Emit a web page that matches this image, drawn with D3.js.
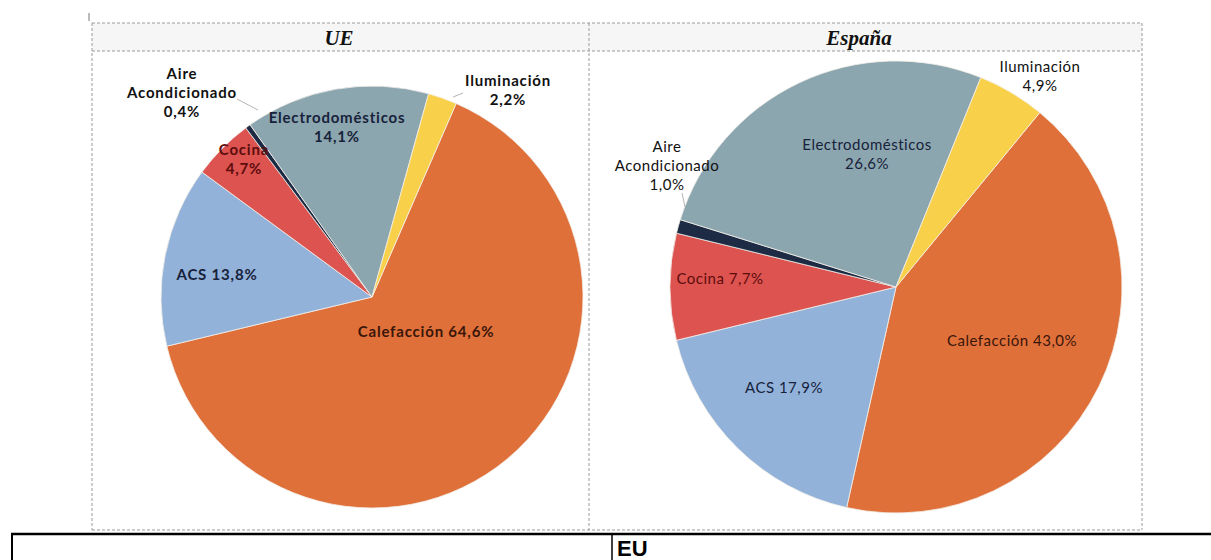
<!DOCTYPE html>
<html>
<head>
<meta charset="utf-8">
<script src="https://cdn.jsdelivr.net/npm/d3@7"></script>
<style>
  body { margin: 0; background: #fff; }
  svg { display: block; }
</style>
</head>
<body>
<div id="viz"></div>
<script>
// chart data
const categories = ["Calefacción", "ACS", "Cocina", "Aire Acondicionado", "Electrodomésticos", "Iluminación"];
const valuesUE = [64.6, 13.8, 4.7, 0.4, 14.1, 2.2];
const valuesES = [43.0, 17.9, 7.7, 1.0, 26.6, 4.9];
const panelTitles = ["UE", "España"];
const tableHeader = "EU";

const colors = ["#e0703a", "#92b2da", "#dc5350", "#1d2b45", "#8ca6b0", "#f8d04a"];
const labelColors = ["#3a160a", "#17223a", "#5e0d0d", "#111", "#17223a", "#111"];

const width = 1211, height = 560;

const fmt = d3.formatLocale({decimal: ",", thousands: ".", grouping: [3], currency: ["", "€"]}).format(".1f");

const svg = d3.select('#viz').append('svg')
    .attr('width', width)
    .attr('height', height);

// frame around both pies (dashed, like the pasted Excel picture)
const frame = {left: 92, right: 1142, top: 23, titleBottom: 51, bottom: 530, mid: 589};

svg.append('rect')
    .attr('x', frame.left).attr('y', frame.top)
    .attr('width', frame.right - frame.left).attr('height', frame.titleBottom - frame.top)
    .attr('fill', '#f6f6f6');

const dashed = (x1, y1, x2, y2) => svg.append('line')
    .attr('x1', x1).attr('y1', y1).attr('x2', x2).attr('y2', y2)
    .attr('stroke', '#9a9a9a').attr('stroke-width', 1).attr('stroke-dasharray', '3,2');

dashed(frame.left, frame.top, frame.right, frame.top);
dashed(frame.left, frame.titleBottom, frame.right, frame.titleBottom);
dashed(frame.left, frame.bottom, frame.right, frame.bottom);
dashed(frame.left, frame.top, frame.left, frame.bottom);
dashed(frame.right, frame.top, frame.right, frame.bottom);
dashed(frame.mid, frame.top, frame.mid, frame.bottom);

// tiny mark at the top-left corner
svg.append('line').attr('x1', 89).attr('y1', 13).attr('x2', 89).attr('y2', 21)
    .attr('stroke', '#777').attr('stroke-width', 1);

// titles
svg.selectAll('text.title')
    .data(panelTitles)
    .join('text')
    .attr('class', 'title')
    .attr('x', (d, i) => [339, 859][i])
    .attr('y', 45)
    .attr('text-anchor', 'middle')
    .style('font-family', '"Liberation Serif", "DejaVu Serif", serif')
    .style('font-style', 'italic')
    .style('font-weight', 'bold')
    .style('font-size', '21px')
    .attr('fill', '#111')
    .text(d => d);

// one pie per panel
// label layouts: offsets from the pie centre, lines: 1 = "name value", 2 = name / value, 3 = split name / value
const pies = [
    {
        values: valuesUE, cx: 372, cy: 297, r: 211, start: 23.5, bold: true, spacing: 0.8,
        labels: [
            {dx: 54, dy: 40, lines: 1},
            {dx: -155, dy: -17, lines: 1},
            {dx: -128, dy: -142, lines: 2, color: labelColors[2]},
            {dx: -190, dy: -218, lines: 3, outside: true, leader: [[-135, -198], [-114, -187]]},
            {dx: -35, dy: -174, lines: 2},
            {dx: 136, dy: -211, lines: 2, outside: true, leader: [[91, -204], [81, -200]]}
        ]
    },
    {
        values: valuesES, cx: 896, cy: 287, r: 226, start: 39.5, bold: false, spacing: 0.5,
        labels: [
            {dx: 116, dy: 59, lines: 1},
            {dx: -112, dy: 106, lines: 1},
            {dx: -176, dy: -3, lines: 1},
            {dx: -229, dy: -135, lines: 3, outside: true, leader: [[-214, -94], [-211, -80]]},
            {dx: -29, dy: -137, lines: 2},
            {dx: 144, dy: -215, lines: 2, outside: true}
        ]
    }
];

pies.forEach(p => {
    const a0 = p.start * Math.PI / 180;
    const pie = d3.pie().sort(null).startAngle(a0).endAngle(a0 + 2 * Math.PI);
    const arc = d3.arc().innerRadius(0).outerRadius(p.r);

    const g = svg.append('g').attr('transform', `translate(${p.cx},${p.cy})`);

    g.selectAll('path')
        .data(pie(p.values))
        .join('path')
        .attr('d', arc)
        .attr('fill', (d, i) => colors[i])
        .attr('stroke', '#f3efe8')
        .attr('stroke-width', 0.8);

    // leader lines for outside labels
    p.labels.forEach(l => {
        if (l.leader) {
            g.append('polyline')
                .attr('points', l.leader.map(q => q.join(',')).join(' '))
                .attr('fill', 'none')
                .attr('stroke', '#b5b5b5')
                .attr('stroke-width', 1);
        }
    });

    const lab = g.selectAll('text.lab')
        .data(p.labels)
        .join('text')
        .attr('class', 'lab')
        .attr('x', d => d.dx)
        .attr('y', d => d.dy)
        .attr('text-anchor', 'middle')
        .style('font-family', 'Lato, "Open Sans", sans-serif')
        .style('font-weight', p.bold ? 'bold' : 'normal')
        .style('font-size', '15px')
        .style('letter-spacing', p.spacing + 'px')
        .attr('fill', (d, i) => d.color || labelColors[i]);

    lab.each(function(d, i) {
        const name = categories[i];
        const val = fmt(p.values[i]) + "%";
        let lines;
        if (d.lines === 1) lines = [name + " " + val];
        else if (d.lines === 2) lines = [name, val];
        else lines = name.split(" ").concat([val]);
        d3.select(this).selectAll('tspan')
            .data(lines)
            .join('tspan')
            .attr('x', d.dx)
            .attr('dy', (t, k) => k === 0 ? 0 : '1.25em')
            .text(t => t);
    });
});

// table row below the picture
svg.append('line').attr('x1', 11).attr('y1', 534).attr('x2', width).attr('y2', 534)
    .attr('stroke', '#000').attr('stroke-width', 2.5);
svg.append('line').attr('x1', 12).attr('y1', 534).attr('x2', 12).attr('y2', height)
    .attr('stroke', '#000').attr('stroke-width', 2);
svg.append('line').attr('x1', 612).attr('y1', 534).attr('x2', 612).attr('y2', height)
    .attr('stroke', '#000').attr('stroke-width', 1.5);

svg.append('text')
    .attr('x', 617).attr('y', 556)
    .style('font-family', '"Liberation Sans", Arial, sans-serif')
    .style('font-weight', 'bold')
    .style('font-size', '22px')
    .attr('fill', '#000')
    .text(tableHeader);
</script>
</body>
</html>
